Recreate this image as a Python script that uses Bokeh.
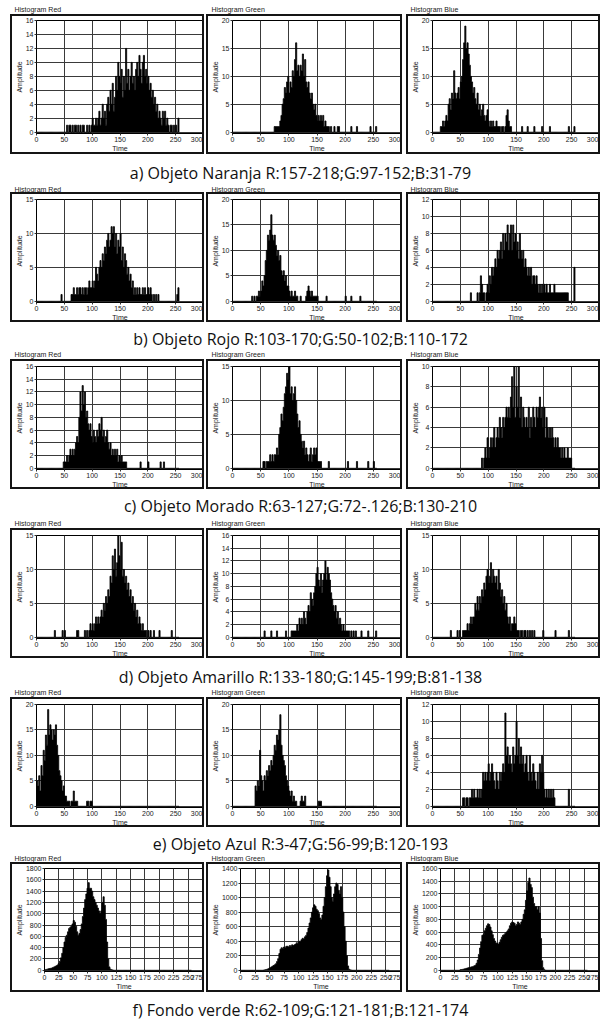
from bokeh.plotting import figure
from bokeh.layouts import column, row
from bokeh.models import Range1d, FixedTicker, Spacer
from bokeh.core.properties import value
from bokeh.embed import file_html
from bokeh.resources import INLINE

BIN = 2  # histogram bin width (grey levels)

CAPTIONS = [
    "a) Objeto Naranja R:157-218;G:97-152;B:31-79",
    "b) Objeto Rojo R:103-170;G:50-102;B:110-172",
    "c) Objeto Morado R:63-127;G:72-.126;B:130-210",
    "d) Objeto Amarillo R:133-180;G:145-199;B:81-138",
    "e) Objeto Azul R:3-47;G:56-99;B:120-193",
    "f) Fondo verde R:62-109;G:121-181;B:121-174",
]
TITLES = ["Histogram Red", "Histogram Green", "Histogram Blue"]

# histogram segments: {first grey level: [counts per 2-level bin, ...]}
A_RED = {54: [1,0,1,1,0,1,0,1,1,0, 1,0,1,0,1,1,0,0,1,0, 1,0,1,2,1,1,2,1,2,3, 1,2,4,2,3,1,4,5,3,6,
              4,7,3,5,8,6,10,8,7,9, 5,8,6,12,7,9,6,8,10,7, 8,6,9,10,8,11,9,7,10,11, 8,9,7,8,6,7,5,6,4,5,
              3,4,2,3,2,1,3,2,3,1, 2,1,0,1,1,0,1,0,1,0, 2]}
A_GREEN = {74: [1,1,1,1,1,2,3,5,6,8, 7,9,10,7,9,8,11,10,13,16, 11,12,10,12,11,14,10,13,9,8,
                9,7,6,7,5,4,5,3,2,3, 2,3,2,3,1,2,1,1,1,0, 1,0,0,1,0,0,1,1],
           210: [1], 220: [1], 244: [1], 254: [1]}
A_BLUE = {14: [1,1,2,1,2,3,2,5,6,4, 7,6,11,7,6,7,8,6,9,10, 13,16,19,15,16,14,12,10,9,7,
               8,6,5,7,4,5,3,4,5,3, 2,3,4,2,1,2,1,2,1,1, 2,1,1,1,0,1,1,0,1,3, 4,2,1,1],
          160: [1], 170: [1], 182: [1], 196: [1], 210: [1], 244: [1], 254: [1]}

B_RED = {44: [1],
         62: [1,1,2,1,1,2,1,2,2,1,2, 1,2,2,1,2,3,2,2,3,2, 3,5,4,3,5,6,5,7,6,8, 7,9,10,8,9,11,10,11,8,10,
              7,9,8,10,6,8,5,7,6,4, 5,3,4,2,3,1,2,1,2,1, 2,1,1,2,1,2,1,1,2,1, 2,1,0,1,0,1,0,1],
         252: [1,2]}
B_GREEN = {34: [1,0,1,0,1,1,2,1,2,4, 3,5,8,10,13,12,14,17,13,12, 13,11,9,10,8,9,6,5,6,4,
                5,3,3,2,1,2,1,1,2,1, 1,0,0,1,0,0,0,0,1,2, 3,2,1,2,1,1,1,1,1],
           166: [1], 200: [1], 210: [1], 226: [1]}
B_BLUE = {68: [1],
          80: [1,0,1,3, 2,1,1,0,1,2,1,3,2,4, 3,4,5,4,6,5,6,7,5,8, 6,8,7,9,6,8,9,6,9,7,
               8,6,7,5,8,6,5,6,4,5, 4,3,4,3,4,2,3,3,2,3, 2,1,2,1,2,1,2,1,2,1,
               1,2,1,1,1,2,1,1,1,1, 1,1,1,1,1,1,1,1],
          254: [4]}

C_RED = {48: [1,1,1,2,1,2,3,2,3,2, 3,4,5,4,8,12,9,13,10,12, 8,9,7,6,7,5,4,6,5,4,
              6,5,7,6,8,5,6,4,5,6, 4,3,4,2,3,2,3,2,3,1, 2,1,2,1,1,1,1],
         186: [1], 200: [1], 222: [1], 228: [1]}
C_GREEN = {54: [1,1,0,1,1,1,2,1,2,1, 2,2,3,2,5,6,8,7,9,11, 12,14,13,15,11,12,10,11,12,10,
                8,6,7,5,4,3,4,2,3,2, 1,2,3,1,2,3,2,3,1,1, 1,1,0,0,0,0,0,0,1],
           204: [1], 220: [1], 240: [1], 250: [1]}
C_BLUE = {88: [1,0,1,2,1,3,1,2,3,2, 3,4,2,3,4,3,5,4,3,5, 4,5,6,5,6,5,7,9,6,10,
               5,8,6,10,5,7,4,6,5,4, 5,4,6,3,5,4,6,5,4,6, 5,6,7,5,6,4,6,3,5,4,
               3,4,3,4,3,2,3,2,3,2, 2,1,2,1,2,1,1,2,1,1, 1]}

D_RED = {32: [1], 46: [1], 50: [1], 72: [1,1], 86: [1], 90: [1],
         94: [1,2,1,2,1,2,3,2,3,2, 3,4,3,5,4,6,5,7,6,9, 8,12,10,13,9,11,15,12,10,14,
              9,10,8,9,7,8,6,7,5,6, 4,5,3,4,2,3,2,1,2,1, 1,1,0,1,0,1,0,0,1],
         220: [1], 242: [1]}
D_GREEN = {56: [1], 68: [1], 78: [1], 94: [1],
           104: [1,1,1,1,1,2,1,3,2,3, 2,4,3,2,4,5,4,7,6,5, 7,8,10,11,9,8,10,7,9,10,
                 12,9,11,10,9,7,6,5,4,5, 3,4,2,3,2,1,2,1,1,1, 1,1,0,1,0,1,0,1],
           228: [1], 240: [1], 254: [1]}
D_BLUE = {32: [1], 44: [1], 48: [1],
          54: [1,1,1,1,2,1,2,3,2,3, 3,5,4,6,4,6,5,7,6,8, 7,9,10,8,9,11,8,10,9,8,
               9,7,10,8,6,7,5,6,4,5, 3,2,3,1,2,2,3,2,1,1, 1,0,1,1,0,1,1,0,1,0, 1,0,1,0,1],
          198: [1], 220: [1], 244: [1]}

E_RED = {0: [5,4,6,3,8,6,11,9,14,12, 19,14,16,15,13,15,14,16,12,10, 7,6,5,3,4,2,2,1,1,1,
             0,1,1,3,1,1,1,0,0,0, 0,0,0,0,0,1,1,0,1,1]}
E_GREEN = {40: [4,3,5,4,11,6,5,3,6,5, 7,6,8,7,9,8,10,12,11,14, 13,15,18,12,10,9,8,6,5,4,
                3,2,3,1,2,1,1,0,0,0, 1,2,1,1,2],
           152: [1,1,1]}
E_BLUE = {54: [1,1,0,1,1,0,1,1,2,1, 2,1,1,2,1,2,1,2,4,3, 4,3,4,5,3,4,5,4,3,2, 4,3,2,4,3,4,5,4,11,6,
               7,5,6,5,4,7,5,6,10,6, 8,5,7,5,6,4,5,6,4,3, 6,4,3,5,4,3,2,4,2,5, 4,6,4,2,1,2,1,2,1,2,
               1,2,1],
          244: [2]}

F_RED = {0: [10,15,20,25,30,35,40,50,60,70, 80,95,120,160,220,300,400,500,580,620,
             680,740,760,780,820,880,850,780,680,620, 650,720,820,950,1100,1250,1350,1450,1550,1450,
             1450,1400,1300,1250,1200,1150,1100,1050,1000,1050, 1200,1300,1150,900,500,200,60,20,10,5]}
F_GREEN = {40: [5,8,12,18,25,35,45,55,65,75, 90,120,160,230,290,310,300,320,310,330,
                330,320,340,330,350,340,350,360,380,370, 400,390,420,440,430,460,480,520,580,650,
                720,800,860,900,880,840,820,780,720,700, 760,880,1000,1150,1300,1380,1280,1150,1000,950,
                1050,1150,1200,1180,1100,1050,1150,1000,800,600, 400,200,60,15,5,2]}
F_BLUE = {34: [10,12,15,20,25,30,35,40,45,50, 55,60,70,80,110,160,250,350,450,550,
               560,620,660,700,730,720,680,620,560,500, 460,430,420,410,440,480,520,550,560,580,
               600,620,650,700,740,760,750,740,700,720, 760,740,720,760,800,880,950,1100,1250,1380,
               1450,1350,1300,1150,1050,1000,1000,950,1000,900, 500,150,40,10]}

HISTS = [[A_RED, A_GREEN, A_BLUE], [B_RED, B_GREEN, B_BLUE], [C_RED, C_GREEN, C_BLUE],
         [D_RED, D_GREEN, D_BLUE], [E_RED, E_GREEN, E_BLUE], [F_RED, F_GREEN, F_BLUE]]
Y_MAX = [[16, 20, 20], [15, 20, 12], [16, 15, 10], [15, 16, 15], [20, 20, 12], [1800, 1400, 1600]]
Y_STEP = [[2, 5, 5], [5, 5, 2], [2, 5, 2], [5, 2, 5], [5, 5, 2], [200, 200, 200]]
X_MAX = [300, 300, 300, 300, 300, 277]
X_STEP = [50, 50, 50, 50, 50, 25]

SMALL_FONT = "Liberation Sans"
CAP_FONT = "Open Sans"


def expand(segs):
    counts = [0] * (256 // BIN)
    for start, vals in segs.items():
        for i, v in enumerate(vals):
            counts[start // BIN + i] = v
    return counts


def make_panel(segs, ymax, ystep, xmax, xstep, width, height, left, top, bottom):
    counts = expand(segs)
    edges = [i * BIN for i in range(len(counts) + 1)]
    heights = counts + [0]
    p = figure(width=width, height=height, x_range=Range1d(0, xmax),
               y_range=Range1d(-ymax * 0.012, ymax), output_backend="svg",
               toolbar_location=None, min_border_left=left, min_border_right=3,
               min_border_top=top, min_border_bottom=bottom)
    p.styles = {"border": "2px solid #151515"}
    p.background_fill_color = "white"
    p.border_fill_color = "white"
    p.outline_line_color = "black"
    p.outline_line_width = 1
    p.grid.grid_line_color = "#3a3a3a"
    p.grid.grid_line_width = 1
    p.varea_step(x=edges, y1=0, y2=heights, step_mode="after", fill_color="black")
    p.step(x=edges, y=heights, mode="after", line_color="black", line_width=0.8)
    p.xaxis.ticker = FixedTicker(ticks=list(range(0, xmax + 1, xstep)))
    p.yaxis.ticker = FixedTicker(ticks=list(range(0, ymax + 1, ystep)))
    p.xaxis.axis_label = "Time"
    p.yaxis.axis_label = "Amplitude"
    for ax in (p.xaxis[0], p.yaxis[0]):
        ax.major_label_text_font = SMALL_FONT
        ax.major_label_text_font_size = "7px"
        ax.major_label_text_color = "#1a1a1a"
        ax.axis_label_text_font = SMALL_FONT
        ax.axis_label_text_font_size = "7px"
        ax.axis_label_text_font_style = "normal"
        ax.axis_label_text_color = "#1a1a1a"
        ax.major_tick_in = 0
        ax.major_tick_out = 2
        ax.major_tick_line_color = "#333333"
        ax.minor_tick_line_color = None
        ax.axis_line_color = "black"
        ax.major_label_standoff = 1
        ax.axis_label_standoff = 0
    return p


def make_strip(height, caption, cap_y, titles_y):
    p = figure(width=600, height=height, x_range=Range1d(0, 600), y_range=Range1d(height, 0),
               output_backend="svg", toolbar_location=None, min_border=0,
               x_axis_location=None, y_axis_location=None)
    p.grid.grid_line_color = None
    p.outline_line_color = None
    p.background_fill_color = "white"
    p.border_fill_color = "white"
    if caption is not None:
        p.text(x=[300], y=[cap_y], text=[caption], text_font=value(CAP_FONT),
               text_font_size=value("16px"), text_align="center", text_baseline="middle",
               text_color="#111111")
    if titles_y is not None:
        p.text(x=[14, 211, 410], y=[titles_y] * 3, text=TITLES, text_font=value(SMALL_FONT),
               text_font_size=value("7px"), text_align="left", text_baseline="middle",
               text_color="#222222")
    return p


STRIP_H = [14, 38, 37, 39, 39, 35, 28]
STRIP_CAP_Y = [None, 18, 16, 16, 18, 16, 17]
STRIP_TITLE_Y = [9, 35, 32, 34, 34, 31, None]
ROW_H = [140, 130, 130, 130, 130, 130]
FIG_W = [194, 196, 194]
GAPS = [10, 2, 4]

children = []
for k in range(7):
    cap = CAPTIONS[k - 1] if k > 0 else None
    children.append(make_strip(STRIP_H[k], cap, STRIP_CAP_Y[k], STRIP_TITLE_Y[k]))
    if k < 6:
        h = ROW_H[k]
        top = 4 if k in (0, 5) else 5
        bottom = 23 if k in (0, 5) else 22
        left = 27 if k == 5 else 18
        items = []
        for j in range(3):
            items.append(Spacer(width=GAPS[j], height=h))
            items.append(make_panel(HISTS[k][j], Y_MAX[k][j], Y_STEP[k][j], X_MAX[k], X_STEP[k],
                                    FIG_W[j], h, left, top, bottom))
        children.append(row(*items))

layout = column(*children)
open("out.html", "w").write(file_html(layout, INLINE))
